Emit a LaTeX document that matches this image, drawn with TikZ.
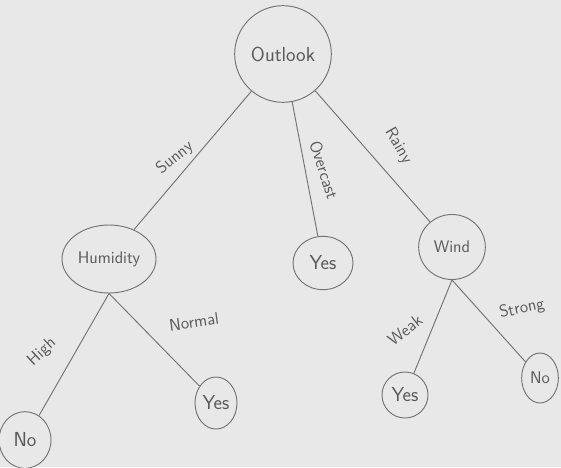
\documentclass[tikz,border=0pt]{standalone}
\usepackage{xcolor}
\usepackage{tikz}
\usetikzlibrary{shapes.geometric}

\begin{document}
\begin{tikzpicture}[x=0.03cm,y=-0.03cm,
  pencil/.style={draw=black!55,line width=0.8pt},
  tnode/.style={pencil,ellipse,inner sep=0pt,text=black!65,font=\sffamily\Large},
  branch/.style={text=black!65,font=\sffamily\Large}]
  \def \LX {561}
  \def \LY {467}
  \fill [black!9] (0,0) rectangle (\LX,\LY);
  \useasboundingbox (0,0) rectangle (\LX,\LY);

  % decision nodes
  \node[tnode,minimum width=2.9cm,minimum height=2.9cm,font=\sffamily\LARGE]
  (outlook) at (283,54) {Outlook};
  \node[tnode,minimum width=2.82cm,minimum height=2.04cm] (humidity) at (109,259) {Humidity};
  \node[tnode,minimum width=2.0cm,minimum height=1.95cm] (wind) at (452,247) {Wind};

  % leaves
  \node[tnode,minimum width=1.8cm,minimum height=1.6cm,font=\sffamily\LARGE] (yesover) at (323,263) {Yes};
  \node[tnode,minimum width=1.56cm,minimum height=1.7cm,font=\sffamily\LARGE] (nohigh) at (25,440) {No};
  \node[tnode,minimum width=1.26cm,minimum height=1.56cm,font=\sffamily\LARGE] (yesnormal) at (216,403) {Yes};
  \node[tnode,minimum width=1.38cm,minimum height=1.38cm,font=\sffamily\LARGE] (yesweak) at (405,395) {Yes};
  \node[tnode,minimum width=1.1cm,minimum height=1.5cm] (nostrong) at (540,378) {No};

  \draw [pencil] (outlook) -- (humidity);
  \draw [pencil] (outlook) -- (yesover);
  \draw [pencil] (outlook) -- (wind);
  \draw [pencil] (humidity.south) -- (nohigh);
  \draw [pencil] (humidity.south) -- (yesnormal);
  \draw [pencil] (wind.south) -- (yesweak);
  \draw [pencil] (wind.south) -- (nostrong);

  % branch labels
  \node[branch,rotate=39] (sunny) at (175,158) {Sunny};
  \node[branch,rotate=-72] (overcast) at (324,170) {Overcast};
  \node[branch,rotate=-60] (rainy) at (398,146) {Rainy};
  \node[branch,rotate=43] (high) at (42,352) {High};
  \node[branch,rotate=8] (normal) at (194,322) {Normal};
  \node[branch,rotate=38] (weak) at (405,330) {Weak};
  \node[branch,rotate=12] (strong) at (522,309) {Strong};

\end{tikzpicture}
\end{document}
